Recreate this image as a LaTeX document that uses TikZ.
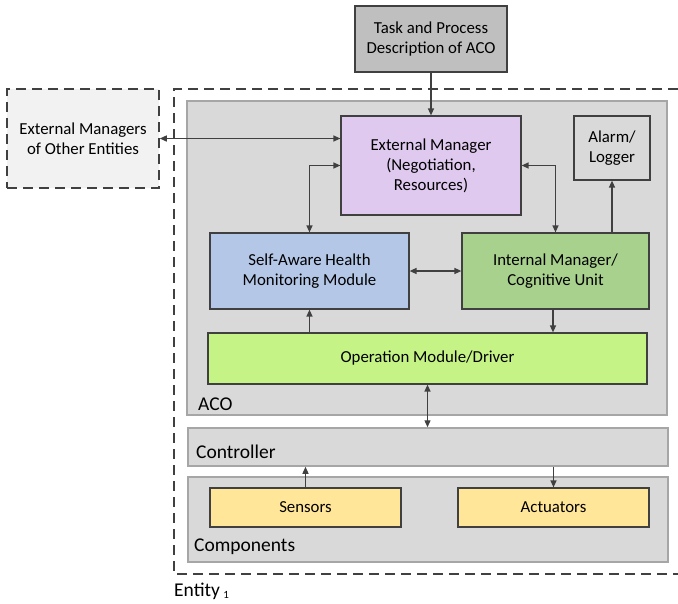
\documentclass[tikz,border=0pt]{standalone}
\usepackage{fontspec}
\setmainfont{Carlito}
\usetikzlibrary{arrows.meta}
\definecolor{lineC}{HTML}{404040}
\definecolor{frameC}{HTML}{A6A6A6}
\definecolor{taskC}{HTML}{BFBFBF}
\definecolor{otherC}{HTML}{F2F2F2}
\definecolor{acoC}{HTML}{D9D9D9}
\definecolor{extC}{HTML}{DFC9EF}
\definecolor{healthC}{HTML}{B4C7E7}
\definecolor{intC}{HTML}{A9D18E}
\definecolor{opC}{HTML}{C5F386}
\definecolor{yelC}{HTML}{FFE699}
\tikzset{
  box/.style={draw=lineC, line width=1.2pt, inner sep=0pt, align=center, font=\fontsize{16.8}{20}\selectfont},
  frame/.style={draw=frameC, line width=1.5pt, fill=acoC, inner sep=0pt},
  dashbox/.style={draw=lineC, line width=1.5pt, dash pattern=on 10pt off 6pt},
  lbl/.style={font=\fontsize{19.5}{22}\selectfont, inner sep=0pt},
  arr/.style={draw=lineC, line width=1.3pt, -{Triangle[length=7pt,width=6pt]}},
  dbl/.style={draw=lineC, line width=1.3pt, {Triangle[length=7pt,width=6pt]}-{Triangle[length=7pt,width=6pt]}}
}
\begin{document}
\begin{tikzpicture}[x=1pt,y=-1pt]
\useasboundingbox (0,0) rectangle (678,603);
% entity dashed frame
\draw[dashbox] (678,89) -- (174,89) -- (174,574) -- (678,574);
\node[lbl, anchor=west] (entity) at (174,591) {Entity\,{\fontsize{11}{12}\selectfont\raisebox{-2pt}{1}}};
% task
\node[box, fill=taskC, minimum width=152, minimum height=66] (task) at (431,39) {Task and Process\\Description of ACO};
% external managers of other entities
\node[dashbox, fill=otherC, inner sep=0pt, minimum width=152, minimum height=99, align=center, font=\fontsize{16.8}{20}\selectfont] (other) at (83,138.5) {External Managers\\of Other Entities};
% ACO frame
\node[frame, minimum width=480, minimum height=314] (aco) at (427,258) {};
\node[lbl, anchor=west] (acolbl) at (198,404) {ACO};
% controller, components
\node[frame, minimum width=480, minimum height=38] (ctrl) at (428,447) {};
\node[lbl, anchor=west] (ctrllbl) at (196,452) {Controller};
\node[frame, minimum width=480, minimum height=85] (comp) at (428,519.5) {};
\node[lbl, anchor=west] (complbl) at (194,547) {Components};
% inner boxes
\node[box, fill=extC, minimum width=180, minimum height=99] (ext) at (431,165.5) {External Manager\\(Negotiation,\\Resources)};
\node[box, fill=acoC, minimum width=76, minimum height=64] (alarm) at (612,148) {Alarm/\\Logger};
\node[box, fill=healthC, minimum width=199, minimum height=76] (health) at (309.5,271) {Self-Aware Health\\Monitoring Module};
\node[box, fill=intC, minimum width=187, minimum height=76] (int) at (555.5,271) {Internal Manager/\\Cognitive Unit};
\node[box, fill=opC, minimum width=439, minimum height=51] (op) at (427.5,358.5) {Operation Module/Driver};
\node[box, fill=yelC, minimum width=191, minimum height=39] (sens) at (305.5,507.5) {Sensors};
\node[box, fill=yelC, minimum width=191, minimum height=39] (act) at (553.5,507.5) {Actuators};
% connectors
\draw[arr] (task.south) -- (ext.north);
\draw[dbl] (other.east) -- (other.east -| ext.west);
\draw[dbl] (health.north) |- (ext.west);
\draw[dbl] (ext.east) -| (int.north);
\draw[arr] (alarm.south |- int.north) -- (alarm.south);
\draw[dbl] (health.east) -- (int.west);
\draw[arr] ([xshift=-2.5pt]int.south) -- ([xshift=-2.5pt]int.south |- op.north);
\draw[arr] (health.south |- op.north) -- (health.south);
\draw[dbl] (op.south) -- (op.south |- ctrl.north);
\draw[arr] (sens.north) -- (sens.north |- ctrl.south);
\draw[arr] (act.north |- ctrl.south) -- (act.north);
\end{tikzpicture}
\end{document}
